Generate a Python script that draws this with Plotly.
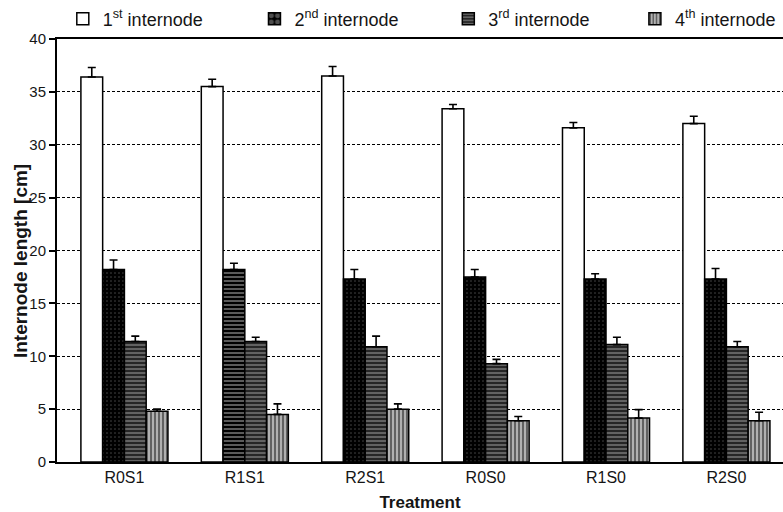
import plotly.graph_objects as go

# Treatments on the x axis
treatments = ["R0S1", "R1S1", "R2S1", "R0S0", "R1S0", "R2S0"]

# Mean internode length [cm] per internode, and upper error (SD)
first_mean = [36.4, 35.5, 36.5, 33.4, 31.6, 32.0]
first_err = [0.9, 0.7, 0.9, 0.4, 0.5, 0.7]
second_mean = [18.2, 18.2, 17.3, 17.5, 17.3, 17.3]
second_err = [0.9, 0.6, 0.9, 0.7, 0.5, 1.0]
third_mean = [11.4, 11.4, 10.9, 9.3, 11.1, 10.9]
third_err = [0.5, 0.4, 1.0, 0.4, 0.7, 0.5]
fourth_mean = [4.8, 4.5, 5.0, 3.9, 4.15, 3.9]
fourth_err = [0.2, 1.0, 0.5, 0.4, 0.8, 0.8]

series_names = ["1<sup>st</sup> internode", "2<sup>nd</sup> internode",
                "3<sup>rd</sup> internode", "4<sup>th</sup> internode"]

FONT = "Liberation Sans, Arial, sans-serif"
TXT = "#151515"

fig = go.Figure()


def err(vals):
    return dict(type="data", symmetric=False, array=vals,
                arrayminus=[0] * len(vals), color="black",
                thickness=1.6, width=4)


line = dict(color="black", width=1.5)
n = len(treatments)

fig.add_trace(go.Bar(
    name=series_names[0], x=treatments, y=first_mean, legend="legend",
    marker=dict(color="white", line=line),
    error_y=err(first_err)))

# the R1S1 bar of the 2nd internode is hatched with horizontal lines
dot_shape = ["."] * n
dot_shape[1] = "-"
dot_fg = ["#9a9a9a"] * n
dot_fg[1] = "#c8c8c8"
dot_sol = [0.12] * n
dot_sol[1] = 0.45

fig.add_trace(go.Bar(
    name=series_names[1], x=treatments, y=second_mean, legend="legend2",
    marker=dict(color="black", line=line,
                pattern=dict(shape=dot_shape, fgcolor=dot_fg,
                             fillmode="overlay", size=[4] * n,
                             solidity=dot_sol)),
    error_y=err(second_err)))

fig.add_trace(go.Bar(
    name=series_names[2], x=treatments, y=third_mean, legend="legend3",
    marker=dict(color="#262626", line=line,
                pattern=dict(shape="-", fgcolor="#d0d0d0", fillmode="overlay",
                             size=4, solidity=0.35)),
    error_y=err(third_err)))

fig.add_trace(go.Bar(
    name=series_names[3], x=treatments, y=fourth_mean, legend="legend4",
    marker=dict(color="#b0b0b0", line=line,
                pattern=dict(shape="|", fgcolor="black", fillmode="overlay",
                             size=4, solidity=0.45)),
    error_y=err(fourth_err)))


def leg(xpos):
    return dict(orientation="h", x=xpos, xanchor="left",
                y=1.047, yanchor="middle",
                font=dict(family=FONT, size=18, color=TXT),
                bgcolor="rgba(0,0,0,0)", itemclick=False)


fig.update_layout(
    width=783, height=512,
    margin=dict(l=57, r=0, t=39, b=50),
    paper_bgcolor="white", plot_bgcolor="white",
    barmode="group", bargap=0.277, bargroupgap=0,
    font=dict(family=FONT, size=16, color=TXT),
    showlegend=True,
    legend=leg(0.008), legend2=leg(0.272), legend3=leg(0.539),
    legend4=leg(0.796),
    xaxis=dict(range=[-0.56, 5.47], showline=True, linecolor="black",
               linewidth=2, mirror=True, ticks="", showgrid=False,
               tickfont=dict(family=FONT, size=16, color=TXT),
               title=dict(text="<b>Treatment</b>", standoff=13,
                          font=dict(family=FONT, size=17, color=TXT))),
    yaxis=dict(range=[0, 40], tickvals=[0, 5, 10, 15, 20, 25, 30, 35, 40],
               showline=True, linecolor="black", linewidth=2,
               ticks="outside", ticklen=6, tickwidth=2, tickcolor="black",
               showgrid=True, gridcolor="black", gridwidth=1,
               griddash="3px,2px", zeroline=False,
               tickfont=dict(family=FONT, size=15, color=TXT)),
    annotations=[dict(text="<b>Internode length [cm]</b>", textangle=-90,
                      xref="paper", yref="paper", x=-0.051, y=0.475,
                      xanchor="center", yanchor="middle", showarrow=False,
                      font=dict(family=FONT, size=19, color=TXT))],
)

fig.write_html("out.html")
